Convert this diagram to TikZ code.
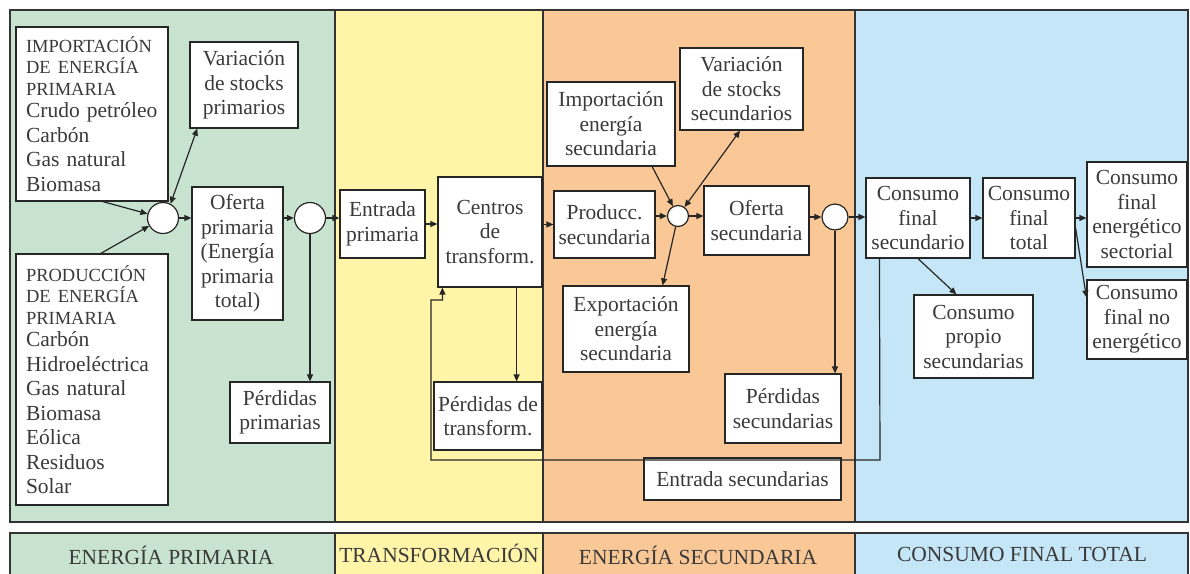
\documentclass[tikz,border=0pt]{standalone}
\usepackage{fontspec}
\setmainfont{Liberation Serif}
\usetikzlibrary{arrows.meta,calc}
\definecolor{gpan}{HTML}{C8E4D0}
\definecolor{ypan}{HTML}{FFF4A8}
\definecolor{opan}{HTML}{FAC896}
\definecolor{bpan}{HTML}{C4E6F6}
\definecolor{ink}{HTML}{3A3A3A}
\newcommand\bodyfs{\fontsize{21.5}{24.5}\selectfont}
\newcommand\capfs{\fontsize{18.5}{21.5}\selectfont}
\newcommand\bandfs{\fontsize{21.5}{24}\selectfont}
\begin{document}
\begin{tikzpicture}[x=1pt,y=-1pt,
 panel/.style={draw=black!80, line width=1.3pt},
 box/.style={draw=black!85, fill=white, line width=1.2pt, inner sep=1.5pt, align=center, font=\bodyfs, text=ink},
 lbox/.style={box, align=left, text width=132pt, inner xsep=10pt},
 hub/.style={circle, draw=black!85, fill=white, line width=1.2pt, inner sep=0pt},
 arr/.style={-{Triangle[length=7pt,width=6pt]}, line width=1.2pt, draw=black!85},
 darr/.style={{Triangle[length=7pt,width=6pt]}-{Triangle[length=7pt,width=6pt]}, line width=1.2pt, draw=black!85},
 band/.style={font=\bandfs, text=ink}
]
\clip (0,0) rectangle (1190,573);
\fill[white] (0,0) rectangle (1190,573);
% panels
\filldraw[panel, fill=gpan] (10,10) rectangle (335,522);
\filldraw[panel, fill=ypan] (335,10) rectangle (543,522);
\filldraw[panel, fill=opan] (543,10) rectangle (855,522);
\filldraw[panel, fill=bpan] (855,10) rectangle (1188,522);
% bottom band
\filldraw[panel, fill=gpan] (10,533) rectangle (335,585);
\filldraw[panel, fill=ypan] (335,533) rectangle (543,585);
\filldraw[panel, fill=opan] (543,533) rectangle (855,585);
\filldraw[panel, fill=bpan] (855,533) rectangle (1188,585);
\node[band] (bl1) at (171,555) {ENERGÍA PRIMARIA};
\node[band] (bl2) at (439,553) {TRANSFORMACIÓN};
\node[band] (bl3) at (698,555) {ENERGÍA SECUNDARIA};
\node[band] (bl4) at (1022,554) {CONSUMO FINAL TOTAL};
% nodes
\node[lbox, minimum height=174pt] (imp) at (92,114)
 {{\capfs IMPORTACIÓN}\\[-3pt]{\capfs DE ENERGÍA}\\[-3pt]{\capfs PRIMARIA}\\[-2pt]Crudo petróleo\\Carbón\\Gas natural\\Biomasa};
\node[lbox, minimum height=251pt] (prod) at (92,379.5)
 {{\capfs PRODUCCIÓN}\\[-3pt]{\capfs DE ENERGÍA}\\[-3pt]{\capfs PRIMARIA}\\[-2pt]Carbón\\Hidroeléctrica\\Gas natural\\Biomasa\\Eólica\\Residuos\\Solar};
\node[box,minimum width=108pt,minimum height=86pt] (varp) at (244,85) {Variación\\de stocks\\primarios};
\node[hub,minimum size=31pt] (c1) at (163,218) {};
\node[box,minimum width=91pt,minimum height=133pt] (ofp) at (237.5,253.5) {Oferta\\primaria\\(Energía\\primaria\\total)};
\node[hub,minimum size=31pt] (c2) at (310,218) {};
\node[box,minimum width=100pt,minimum height=61pt] (perp) at (280,412.5) {Pérdidas\\primarias};
\node[box,minimum width=85pt,minimum height=68pt] (entp) at (382.5,224) {Entrada\\primaria};
\node[box,minimum width=104pt,minimum height=110pt] (cen) at (490,232) {Centros\\de\\transform.};
\node[box,minimum width=108pt,minimum height=68pt] (pert) at (488,416) {Pérdidas de\\transform.};
\node[box,minimum width=128pt,minimum height=84pt] (imps) at (611,124) {Importación\\energía\\secundaria};
\node[box,minimum width=123pt,minimum height=82pt] (vars) at (741.5,89) {Variación\\de stocks\\secundarios};
\node[box,minimum width=101pt,minimum height=67pt] (prs) at (604.5,224.5) {Producc.\\secundaria};
\node[hub,minimum size=21pt] (c3) at (678,216) {};
\node[box,minimum width=105pt,minimum height=69pt] (ofs) at (756.5,220.5) {Oferta\\secundaria};
\node[hub,minimum size=26pt] (c4) at (835,217) {};
\node[box,minimum width=126pt,minimum height=86pt] (exps) at (626,329) {Exportación\\energía\\secundaria};
\node[box,minimum width=116pt,minimum height=69pt] (pers) at (783,408.5) {Pérdidas\\secundarias};
\node[box,minimum width=197pt,minimum height=42pt] (ents) at (742.5,479) {Entrada secundarias};
\node[box,minimum width=104pt,minimum height=80pt] (cfs) at (918,218) {Consumo\\final\\secundario};
\node[box,minimum width=92pt,minimum height=80pt] (cft) at (1029,218) {Consumo\\final\\total};
\node[box,minimum width=100pt,minimum height=105pt] (cfe) at (1137,214.5) {Consumo\\final\\energético\\sectorial};
\node[box,minimum width=100pt,minimum height=79pt] (cfn) at (1137,319.5) {Consumo\\final no\\energético};
\node[box,minimum width=119pt,minimum height=83pt] (cps) at (973.5,336.5) {Consumo\\propio\\secundarias};
% connectors
\draw[arr] (imp.-83) -- (c1);
\draw[arr] (prod.86) -- (c1);
\draw[darr] (c1.62) -- (varp.-137);
\draw[arr] (c1.east) -- (c1.east -| ofp.west);
\draw[arr] (ofp.east |- c2.west) -- (c2.west);
\draw[arr] (c2.east) -- (c2.east -| entp.west);
\draw[arr] (c2.south) -- (c2.south |- perp.north);
\draw[arr] (entp.east) -- (entp.east -| cen.west);
\draw[arr] (prs.west -| cen.east) -- (prs.west);
\draw[arr] ($(cen.south east)+(-26,0)$) -- ($(pert.north east)+(-26,0)$);
\draw[arr] (imps.-46) -- (c3);
\draw[darr] (c3) -- (vars.-92);
\draw[arr] (prs.east |- c3.west) -- (c3.west);
\draw[arr] (c3.east) -- (c3.east -| ofs.west);
\draw[arr] (c3) -- ($(exps.north east)+(-27,0)$);
\draw[arr] (ofs.east |- c4.west) -- (c4.west);
\draw[arr] (c4.south) -- (c4.south |- pers.north);
\draw[arr] (c4.east) -- (c4.east -| cfs.west);
\draw[arr] (cfs.east) -- (cft.west);
\draw[arr] (cft.east) -- (cft.east -| cfe.west);
\draw[arr] ($(cft.east)+(0,10)$) -- ($(cfn.north west)+(0,18)$);
\draw[arr] (cfs.south) -- ($(cps.north west)+(43,0)$);
\coordinate (lp1) at (880,460);
\coordinate (lp2) at (431,460);
\coordinate (lp3) at (431,300);
\draw[arr] ($(cfs.south west)+(14,0)$) -- (lp1) -- (lp2) -- (lp3) -| ($(cen.south west)+(5,0)$);
\end{tikzpicture}
\end{document}
